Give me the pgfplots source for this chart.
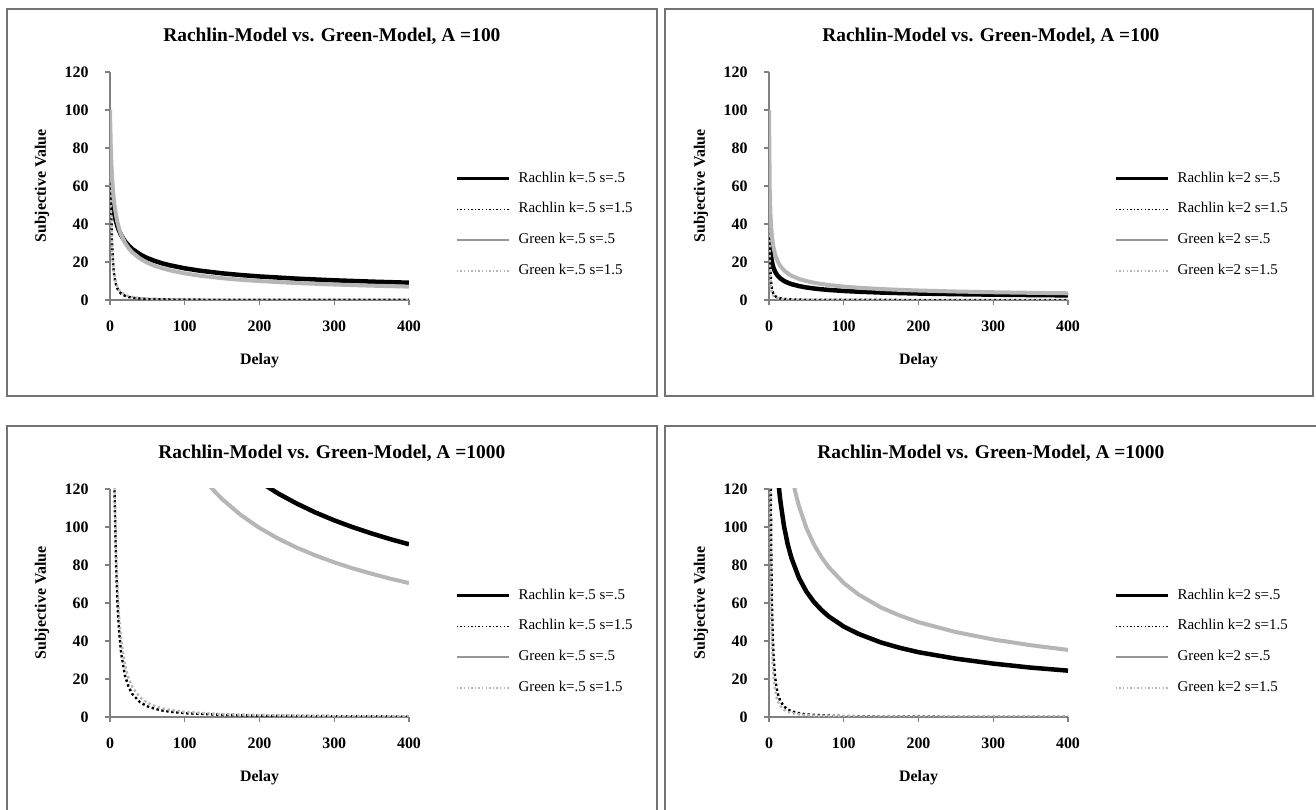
\documentclass[border=0pt]{standalone}
\usepackage{fontspec}
\setmainfont{Liberation Serif}
\usepackage{pgfplots}
\pgfplotsset{compat=1.18}
\definecolor{lg}{RGB}{182,182,182}
\definecolor{lgl}{RGB}{150,150,150}
\definecolor{axg}{RGB}{128,128,128}
\definecolor{boxg}{RGB}{115,115,115}
\pgfplotsset{
  panel/.style={
    scale only axis, width=299bp, height=228bp,
    xmin=0, xmax=400, ymin=0, ymax=120,
    xtick={0,100,200,300,400}, ytick={0,20,40,60,80,100,120},
    axis x line=bottom, axis y line=left,
    axis line style={axg, line width=1.2bp, -},
    every tick/.style={axg, line width=1.2bp},
    major tick length=5bp, tick align=outside,
    /pgf/number format/assume math mode=true,
    ticklabel style={font=\fontsize{16}{16}\selectfont\bfseries},
    xticklabel style={yshift=-12bp},
    yticklabel style={xshift=-13bp},
    every axis title shift=0pt,
    title style={at={(axis description cs:0.742,1.155)}, anchor=center, font=\fontsize{19.5}{19.5}\selectfont\bfseries},
    every axis x label/.style={at={(axis description cs:0.5,-0.2675)}, anchor=center, font=\fontsize{16}{16}\selectfont\bfseries},
    every axis y label/.style={at={(axis description cs:-0.227,0.5)}, anchor=center, rotate=90, font=\fontsize{16}{16}\selectfont\bfseries},
    xlabel={Delay}, ylabel={Subjective Value},
    legend cell align=left,
    legend image code/.code={\draw[#1] (0bp,0bp) -- (52bp,0bp);},
    legend style={draw=none, fill=none, inner sep=0pt, outer sep=0pt,
      at={(axis description cs:1.154,0.33)}, anchor=west,
      row sep=16.8bp, column sep=8bp,
      font=\fontsize{15}{15}\selectfont,
      nodes={inner sep=0pt, text height=10.5bp, text depth=3.5bp}},
  },
  p1/.style={black, line width=4.5bp, line join=round},
  p2/.style={black, line width=2.4bp, dash pattern=on 2.4bp off 2.6bp},
  p3/.style={lg, line width=4bp, line join=round},
  p4/.style={lg, line width=2.4bp, dash pattern=on 2.4bp off 2.6bp},
  l1/.style={black, line width=3.5bp},
  l2/.style={black, line width=1.4bp, dash pattern=on 1.4bp off 2.2bp},
  l3/.style={lgl, line width=1.8bp},
  l4/.style={lg, line width=1.4bp, dash pattern=on 1.4bp off 2.2bp},
}
\begin{document}
\begin{tikzpicture}
\clip (0bp,0bp) rectangle (1316bp,810bp);
\fill[white] (0bp,0bp) rectangle (1316bp,810bp);
\draw[boxg, line width=1.5bp] (7bp,414bp) rectangle (657bp,801bp);
\draw[boxg, line width=1.5bp] (665bp,414bp) rectangle (1313bp,801bp);
\draw[boxg, line width=1.5bp] (7bp,-5bp) rectangle (657bp,384bp);
\draw[boxg, line width=1.5bp] (665bp,-5bp) rectangle (1325bp,384bp);

% ---------- Top left: A=100, k=.5
\begin{axis}[panel, at={(110bp,510bp)}, anchor=south west,
  title={Rachlin-Model vs. Green-Model, A =100}]
\addplot[p1, forget plot] coordinates {(1,66.67)(2,58.58)(3,53.59)(4,50)(5,47.21)(6,44.95)(8,41.42)(10,38.74)(12,36.60)(15,34.05)(20,30.90)(25,28.57)(30,26.75)(40,24.03)(50,22.05)(60,20.52)(70,19.29)(80,18.27)(100,16.67)(120,15.44)(150,14.04)(175,13.13)(200,12.39)(250,11.23)(300,10.35)(350,9.66)(400,9.09)};
\addplot[p2, forget plot] coordinates {(1,66.67)(2,41.42)(3,27.79)(4,20)(5,15.17)(6,11.98)(8,8.12)(10,5.95)(12,4.59)(15,3.33)(20,2.19)(25,1.57)(30,1.20)(40,0.78)(50,0.56)(60,0.43)(70,0.34)(80,0.28)(100,0.20)(150,0.11)(200,0.07)(300,0.04)(400,0.025)};
\addplot[p3, forget plot] coordinates {(0,100)(1,81.65)(2,70.71)(3,63.25)(4,57.74)(5,53.45)(6,50)(8,44.72)(10,40.82)(12,37.80)(15,34.30)(20,30.15)(25,27.22)(30,25)(40,21.82)(50,19.61)(60,17.96)(70,16.67)(80,15.62)(100,14.00)(120,12.80)(150,11.47)(175,10.63)(200,9.95)(250,8.91)(300,8.14)(350,7.54)(400,7.05)};
\addplot[p4, forget plot] coordinates {(0,100)(1,54.43)(2,35.36)(3,25.30)(4,19.25)(5,15.27)(6,12.5)(8,8.94)(10,6.80)(12,5.40)(15,4.04)(20,2.74)(25,2.02)(30,1.56)(40,1.04)(50,0.75)(60,0.58)(70,0.46)(80,0.38)(100,0.27)(150,0.15)(200,0.10)(300,0.054)(400,0.035)};
\addlegendimage{l1}\addlegendentry{Rachlin k=.5 s=.5}
\addlegendimage{l2}\addlegendentry{Rachlin k=.5 s=1.5}
\addlegendimage{l3}\addlegendentry{Green k=.5 s=.5}
\addlegendimage{l4}\addlegendentry{Green k=.5 s=1.5}
\end{axis}

% ---------- Top right: A=100, k=2
\begin{axis}[panel, at={(769bp,510bp)}, anchor=south west,
  title={Rachlin-Model vs. Green-Model, A =100}]
\addplot[p1, forget plot] coordinates {(1,33.33)(2,26.12)(3,22.40)(4,20)(5,18.27)(6,16.95)(8,15.02)(10,13.65)(12,12.61)(15,11.43)(20,10.06)(25,9.09)(30,8.37)(40,7.33)(50,6.60)(60,6.06)(70,5.64)(80,5.29)(100,4.76)(120,4.37)(150,3.92)(175,3.64)(200,3.41)(250,3.07)(300,2.81)(350,2.60)(400,2.44)};
\addplot[p2, forget plot] coordinates {(1,33.33)(2,15.02)(3,8.78)(4,5.88)(5,4.28)(6,3.29)(8,2.16)(10,1.56)(12,1.19)(15,0.85)(20,0.56)(25,0.40)(30,0.30)(40,0.20)(50,0.14)(60,0.11)(80,0.07)(100,0.05)(150,0.027)(200,0.018)(300,0.0096)(400,0.006)};
\addplot[p3, forget plot] coordinates {(0,100)(1,57.74)(2,44.72)(3,37.80)(4,33.33)(5,30.15)(6,27.74)(8,24.25)(10,21.82)(12,20)(15,17.96)(20,15.62)(25,14.00)(30,12.80)(40,11.11)(50,9.95)(60,9.09)(70,8.42)(80,7.88)(100,7.05)(120,6.44)(150,5.76)(175,5.34)(200,4.99)(250,4.47)(300,4.08)(350,3.78)(400,3.53)};
\addplot[p4, forget plot] coordinates {(0,100)(1,19.25)(2,8.94)(3,5.40)(4,3.70)(5,2.74)(6,2.13)(8,1.43)(10,1.04)(12,0.80)(15,0.58)(20,0.38)(25,0.27)(30,0.21)(40,0.14)(50,0.10)(60,0.075)(80,0.049)(100,0.035)(150,0.019)(200,0.012)(300,0.0068)(400,0.0044)};
\addlegendimage{l1}\addlegendentry{Rachlin k=2 s=.5}
\addlegendimage{l2}\addlegendentry{Rachlin k=2 s=1.5}
\addlegendimage{l3}\addlegendentry{Green k=2 s=.5}
\addlegendimage{l4}\addlegendentry{Green k=2 s=1.5}
\end{axis}

% ---------- Bottom left: A=1000, k=.5
\begin{axis}[panel, at={(110bp,93bp)}, anchor=south west,
  title={Rachlin-Model vs. Green-Model, A =1000}]
\addplot[p1, forget plot] coordinates {(1,666.7)(2,585.8)(3,535.9)(4,500)(5,472.1)(6,449.5)(8,414.2)(10,387.4)(12,366.0)(15,340.5)(20,309.0)(25,285.7)(30,267.5)(40,240.3)(50,220.5)(60,205.2)(70,192.9)(80,182.7)(100,166.7)(120,154.4)(150,140.4)(175,131.3)(200,123.9)(225,117.6)(250,112.3)(275,107.6)(300,103.5)(325,99.86)(350,96.6)(375,93.61)(400,90.9)};
\addplot[p2, forget plot] coordinates {(1,666.7)(2,414.2)(3,277.9)(4,200)(5,151.7)(6,119.8)(8,81.2)(10,59.5)(12,45.9)(15,33.3)(20,21.9)(25,15.7)(30,12.0)(40,7.8)(50,5.6)(60,4.3)(70,3.4)(80,2.8)(100,2.0)(150,1.1)(200,0.7)(300,0.4)(400,0.25)};
\addplot[p3, forget plot] coordinates {(0,1000)(1,816.5)(2,707.1)(3,632.5)(4,577.4)(5,534.5)(6,500)(8,447.2)(10,408.2)(12,378.0)(15,343.0)(20,301.5)(25,272.2)(30,250)(40,218.2)(50,196.1)(60,179.6)(70,166.7)(80,156.2)(100,140.0)(120,128.0)(130,123.1)(140,118.7)(150,114.7)(175,106.3)(200,99.5)(225,93.9)(250,89.1)(275,85.0)(300,81.4)(325,78.2)(350,75.4)(375,72.8)(400,70.5)};
\addplot[p4, forget plot] coordinates {(0,1000)(1,544.3)(2,353.6)(3,253.0)(4,192.5)(5,152.7)(6,125)(8,89.4)(10,68.0)(12,54.0)(15,40.4)(20,27.4)(25,20.2)(30,15.6)(40,10.4)(50,7.5)(60,5.8)(70,4.6)(80,3.8)(100,2.7)(150,1.5)(200,1.0)(300,0.54)(400,0.35)};
\addlegendimage{l1}\addlegendentry{Rachlin k=.5 s=.5}
\addlegendimage{l2}\addlegendentry{Rachlin k=.5 s=1.5}
\addlegendimage{l3}\addlegendentry{Green k=.5 s=.5}
\addlegendimage{l4}\addlegendentry{Green k=.5 s=1.5}
\end{axis}

% ---------- Bottom right: A=1000, k=2
\begin{axis}[panel, at={(769bp,93bp)}, anchor=south west,
  title={Rachlin-Model vs. Green-Model, A =1000}]
\addplot[p1, forget plot] coordinates {(1,333.3)(2,261.2)(3,224.0)(4,200)(5,182.7)(6,169.5)(8,150.2)(10,136.5)(12,126.1)(13,121.8)(14,117.9)(15,114.3)(20,100.6)(25,90.9)(30,83.7)(40,73.3)(50,66.0)(60,60.6)(70,56.4)(80,52.9)(100,47.6)(120,43.7)(150,39.2)(175,36.4)(200,34.1)(250,30.7)(300,28.1)(350,26.0)(400,24.4)};
\addplot[p2, forget plot] coordinates {(1,333.3)(2,150.2)(3,87.8)(4,58.8)(5,42.8)(6,32.9)(8,21.6)(10,15.6)(12,11.9)(15,8.5)(20,5.6)(25,4.0)(30,3.0)(40,2.0)(50,1.4)(60,1.1)(80,0.7)(100,0.5)(150,0.27)(200,0.18)(300,0.1)(400,0.06)};
\addplot[p3, forget plot] coordinates {(0,1000)(1,577.4)(2,447.2)(3,378.0)(4,333.3)(5,301.5)(6,277.4)(8,242.5)(10,218.2)(12,200)(15,179.6)(20,156.2)(25,140.0)(30,128.0)(35,118.7)(40,111.1)(50,99.5)(60,90.9)(70,84.2)(80,78.8)(100,70.5)(120,64.4)(150,57.6)(175,53.4)(200,49.9)(250,44.7)(300,40.8)(350,37.8)(400,35.3)};
\addplot[p4, forget plot] coordinates {(0,1000)(1,192.5)(2,89.4)(3,54.0)(4,37.0)(5,27.4)(6,21.3)(8,14.3)(10,10.4)(12,8.0)(15,5.8)(20,3.8)(25,2.7)(30,2.1)(40,1.4)(50,1.0)(60,0.75)(80,0.49)(100,0.35)(150,0.19)(200,0.12)(300,0.07)(400,0.04)};
\addlegendimage{l1}\addlegendentry{Rachlin k=2 s=.5}
\addlegendimage{l2}\addlegendentry{Rachlin k=2 s=1.5}
\addlegendimage{l3}\addlegendentry{Green k=2 s=.5}
\addlegendimage{l4}\addlegendentry{Green k=2 s=1.5}
\end{axis}
\end{tikzpicture}
\end{document}
